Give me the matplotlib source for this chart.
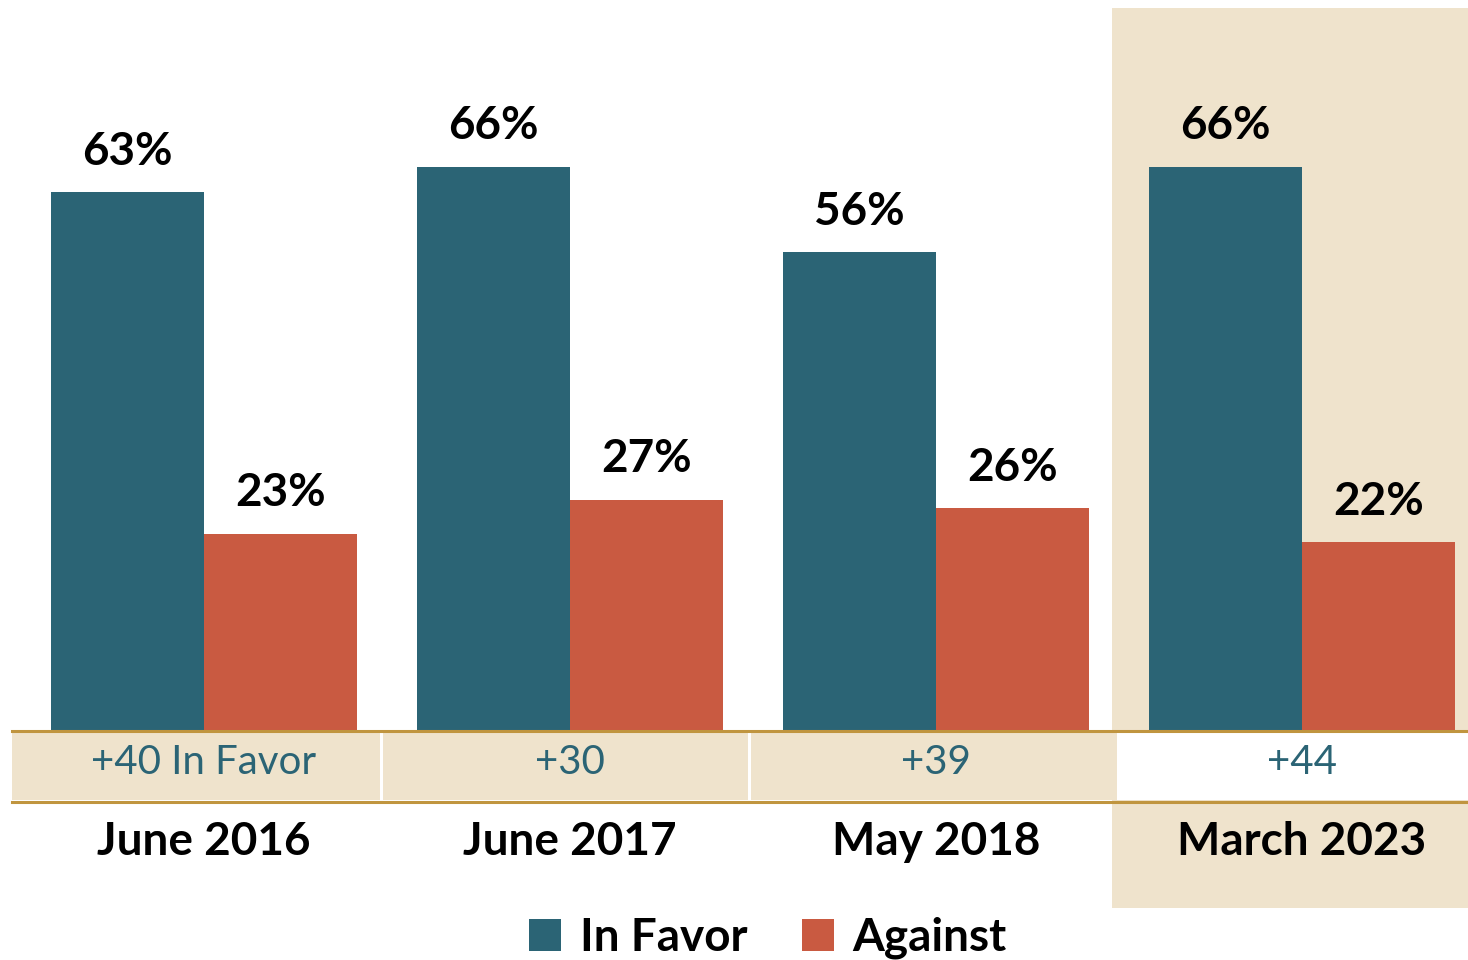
import numpy as np
import matplotlib.pyplot as plt
from matplotlib.patches import Rectangle
from matplotlib.lines import Line2D
from matplotlib.transforms import blended_transform_factory

plt.rcParams['font.family'] = ['Lato', 'DejaVu Sans']

# data
periods = ['June 2016', 'June 2017', 'May 2018', 'March 2023']
in_favor = [63, 66, 56, 66]
against = [23, 27, 26, 22]
margins = ['+40 In Favor', '+30', '+39', '+44']

TEAL = '#2b6475'
RED = '#c95a41'
BEIGE = '#efe3cc'
GOLD = '#c0953f'

W, H = 1468, 960


def fx(px):
    return px / W


def fy(py):
    return 1 - py / H


fig = plt.figure(figsize=(W / 100, H / 100), dpi=100)

# highlight column for latest period
fig.add_artist(Rectangle((fx(1112), fy(908)), fx(1468 - 1112), (908 - 8) / H,
                         transform=fig.transFigure, facecolor=BEIGE, edgecolor='none', zorder=0))

# margin row background
cells = [(12, 380), (383, 748), (751, 1117)]
for x0, x1 in cells:
    fig.add_artist(Rectangle((fx(x0), fy(800)), fx(x1 - x0), (800 - 732) / H,
                             transform=fig.transFigure, facecolor=BEIGE, edgecolor='none', zorder=0))
fig.add_artist(Rectangle((fx(1117), fy(800)), fx(1468 - 1117), (800 - 732) / H,
                         transform=fig.transFigure, facecolor='white', edgecolor='none', zorder=0))
for yy in (731, 802):
    fig.add_artist(Line2D([fx(12), 1], [fy(yy), fy(yy)], transform=fig.transFigure,
                          color=GOLD, lw=2.2, zorder=1))

ax = fig.add_axes([fx(12), fy(730), fx(1468 - 12), (730 - 8) / H])
ax.patch.set_alpha(0)

x = np.arange(len(periods))
w = 0.4167
b1 = ax.bar(x - w / 2, in_favor, w, color=TEAL, label='In Favor', zorder=2)
b2 = ax.bar(x + w / 2, against, w, color=RED, label='Against', zorder=2)

for bars, vals in ((b1, in_favor), (b2, against)):
    for rect, v in zip(bars, vals):
        ax.annotate(f'{v}%', (rect.get_x() + rect.get_width() / 2, rect.get_height()),
                    xytext=(0, 14), textcoords='offset points', ha='center', va='bottom',
                    fontsize=33, fontweight='bold', color='black')

ax.set_xlim((12 - 204) / 366, (1468 - 204) / 366)
ax.set_ylim(0, 84.6)
ax.set_xticks([])
ax.set_yticks([])
for s in ax.spines.values():
    s.set_visible(False)

trans = blended_transform_factory(ax.transData, fig.transFigure)
for i, (p, m) in enumerate(zip(periods, margins)):
    ax.text(i, fy(763), m, transform=trans, ha='center', va='center',
            fontsize=29, color=TEAL, clip_on=False)
    ax.text(i, fy(842), p, transform=trans, ha='center', va='center',
            fontsize=33, fontweight='bold', color='black', clip_on=False)

fig.legend(handles=[b1, b2], loc='center', bbox_to_anchor=(fx(768), fy(938)), ncol=2,
           frameon=False, prop={'size': 33, 'weight': 'bold'}, handlelength=0.7,
           handleheight=0.7, handletextpad=0.4, columnspacing=1.2)

fig.savefig('out.png', dpi=100)
